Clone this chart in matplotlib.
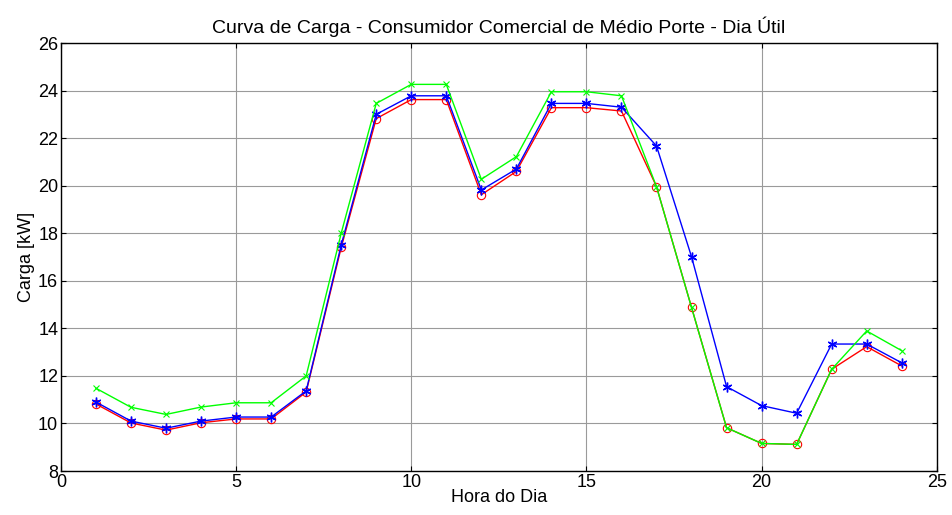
import matplotlib
matplotlib.use("Agg")
import matplotlib.pyplot as plt

hours = list(range(1, 25))
red = [10.82, 10.02, 9.72, 10.03, 10.19, 10.19, 11.32, 17.4, 22.82, 23.62, 23.62, 19.62,
       20.6, 23.28, 23.28, 23.14, 19.96, 14.88, 9.82, 9.16, 9.12, 12.28, 13.23, 12.42]
blue = [10.9, 10.1, 9.8, 10.1, 10.27, 10.27, 11.37, 17.5, 23.0, 23.78, 23.78, 19.82,
        20.7, 23.46, 23.46, 23.3, 21.67, 17.01, 11.55, 10.75, 10.43, 13.34, 13.34, 12.55]
green = [11.48, 10.68, 10.38, 10.69, 10.87, 10.87, 12.0, 18.0, 23.46, 24.26, 24.26, 20.27,
         21.22, 23.95, 23.95, 23.78, 19.96, 14.88, 9.82, 9.16, 9.12, 12.28, 13.89, 13.06]

title = "Curva de Carga - Consumidor Comercial de Médio Porte - Dia Útil"
xlabel = "Hora do Dia"
ylabel = "Carga [kW]"
xticks = [0, 5, 10, 15, 20, 25]
yticks = [8, 10, 12, 14, 16, 18, 20, 22, 24, 26]

plt.rcParams['font.family'] = ['Liberation Sans', 'DejaVu Sans']
fig = plt.figure(figsize=(9.52, 5.15), dpi=100)
ax = fig.add_axes([0.064, 0.0854, 0.920, 0.8311])

ax.plot(hours, red, color='#ff0000', marker='o', markersize=6, markerfacecolor='none',
        markeredgewidth=0.8, linewidth=1.0)
ax.plot(hours, blue, color='#0000ff', marker=(6, 2, 0), markersize=7, linewidth=1.0,
        markeredgewidth=1.0)
ax.plot(hours, green, color='#00ff00', marker='x', markersize=4.5, linewidth=1.0,
        markeredgewidth=0.8)

ax.set_xlim(0, 25)
ax.set_ylim(8, 26)
ax.set_xticks(xticks)
ax.set_yticks(yticks)
ax.set_axisbelow(True)
ax.grid(True, color='#9a9a9a', linestyle='-', linewidth=0.8)
ax.tick_params(direction='in', length=3.5, width=0.8, labelsize=13, pad=2,
               top=True, right=True, labeltop=False, labelright=False)
for s in ax.spines.values():
    s.set_linewidth(1.0)
ax.set_title(title, fontsize=14, pad=7)
ax.set_xlabel(xlabel, fontsize=13, labelpad=-1)
ax.set_ylabel(ylabel, fontsize=13, labelpad=2)

fig.savefig("out.png", dpi=100)
